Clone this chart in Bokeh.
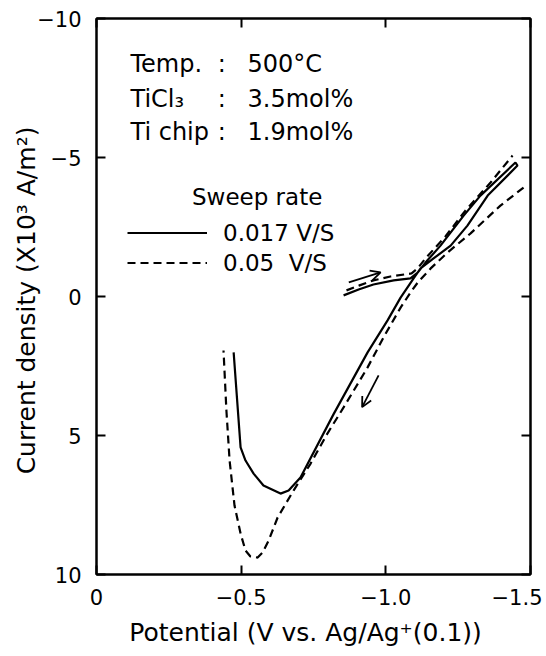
from bokeh.plotting import figure
from bokeh.models import (Range1d, FixedTicker, CustomJSTickFormatter, LinearAxis,
                          Legend, LegendItem, Arrow, OpenHead, ColumnDataSource)
from bokeh.core.properties import value
from bokeh.embed import file_html
from bokeh.resources import INLINE

NAN = float("nan")
FONT = "DejaVu Sans"

# ---- data (potential V vs Ag/Ag+, current density x10^3 A/m^2) ----
solid_fwd_x = [-0.854, -0.906, -0.957, -1.027, -1.085, -1.110, -1.137, -1.189, -1.269, -1.327, -1.448]
solid_fwd_y = [-0.04, -0.25, -0.43, -0.58, -0.65, -0.86, -1.22, -1.83, -2.91, -3.63, -4.82]
solid_rev_x = [-1.455, -1.352, -1.282, -1.224, -1.165, -1.120, -1.096, -1.051, -1.006, -0.937,
               -0.819, -0.705, -0.664, -0.636, -0.577, -0.543, -0.515, -0.498, -0.474]
solid_rev_y = [-4.71, -3.63, -2.55, -1.83, -1.37, -1.01, -0.65, 0.04, 0.86, 2.01,
               4.24, 6.51, 6.98, 7.09, 6.80, 6.37, 5.90, 5.43, 2.01]

dash_fwd_x = [-0.864, -0.909, -0.957, -1.016, -1.089, -1.110, -1.137, -1.206, -1.275, -1.362, -1.438]
dash_fwd_y = [-0.22, -0.40, -0.58, -0.72, -0.83, -1.01, -1.37, -2.16, -3.09, -4.10, -5.07]
dash_rev_x = [-1.476, -1.396, -1.293, -1.213, -1.155, -1.110, -1.085, -1.051, -0.992, -0.937,
              -0.854, -0.798, -0.740, -0.681, -0.626, -0.595, -0.574, -0.557, -0.532, -0.515,
              -0.498, -0.477, -0.460, -0.449, -0.439]
dash_rev_y = [-3.92, -3.27, -2.27, -1.58, -1.01, -0.50, -0.14, 0.40, 1.47, 2.55,
              3.99, 4.93, 6.01, 6.98, 7.95, 8.78, 9.21, 9.39, 9.35, 9.14,
              8.53, 7.52, 5.90, 4.10, 1.94]

series_labels = ["0.017 V/S", "0.05  V/S"]
legend_title = "Sweep rate"

info_names = ["Temp.", "TiCl\u2083", "Ti chip"]
info_colons = [":", ":", ":"]
info_values = ["500\u00b0C", "3.5mol%", "1.9mol%"]

x_ticks = [0, -0.5, -1.0, -1.5]
y_ticks = [-10, -5, 0, 5, 10]

# sweep direction arrows (start x, start y, end x, end y)
arrow_fwd = [-0.872, -0.51, -0.982, -0.87]
arrow_rev = [-0.975, 2.84, -0.918, 3.98]

# ---- figure ----
p = figure(width=542, height=652, output_backend="svg", toolbar_location=None,
           x_range=Range1d(0, -1.5), y_range=Range1d(10, -10),
           min_border_left=96, min_border_right=12, min_border_top=18, min_border_bottom=78,
           x_axis_label="Potential  (V  vs. Ag/Ag\u207a(0.1))",
           y_axis_label="Current density  (X10\u00b3 A/m\u00b2)")
p.grid.visible = False
p.outline_line_color = "black"
p.outline_line_width = 2
p.background_fill_color = "white"
p.border_fill_color = "white"

xfmt = CustomJSTickFormatter(code="return tick == 0 ? '0' : '\u2212' + Math.abs(tick).toFixed(1);")
yfmt = CustomJSTickFormatter(code="return tick < 0 ? '\u2212' + Math.abs(tick) : String(tick);")

def style_axis(ax):
    ax.axis_line_width = 2
    ax.axis_line_color = "black"
    ax.major_tick_in = 9
    ax.major_tick_out = 0
    ax.major_tick_line_width = 2
    ax.minor_tick_line_color = None
    ax.major_label_text_font = FONT
    ax.major_label_text_font_size = "21px"
    ax.major_label_text_color = "black"
    ax.axis_label_text_font = FONT
    ax.axis_label_text_font_size = "25px"
    ax.axis_label_text_font_style = "normal"
    ax.axis_label_text_color = "black"

xa = p.xaxis[0]
ya = p.yaxis[0]
style_axis(xa)
style_axis(ya)
xa.ticker = FixedTicker(ticks=x_ticks)
ya.ticker = FixedTicker(ticks=y_ticks)
xa.formatter = xfmt
ya.formatter = yfmt
xa.major_label_standoff = 14
xa.axis_label_standoff = 10
ya.major_label_standoff = 15
ya.axis_label_standoff = -7

empty = CustomJSTickFormatter(code="return '';")
for loc, ticks in (("right", y_ticks), ("above", x_ticks)):
    ax = LinearAxis(ticker=FixedTicker(ticks=ticks), formatter=empty)
    style_axis(ax)
    ax.major_label_text_font_size = "0px"
    ax.major_label_standoff = 0
    ax.axis_label_standoff = 0
    p.add_layout(ax, loc)

solid_src = ColumnDataSource(dict(x=solid_fwd_x + solid_rev_x, y=solid_fwd_y + solid_rev_y))
dash_src = ColumnDataSource(dict(x=dash_fwd_x + [NAN] + dash_rev_x, y=dash_fwd_y + [NAN] + dash_rev_y))

r_solid = p.line("x", "y", source=solid_src, line_color="black", line_width=2.2)
r_dash = p.line("x", "y", source=dash_src, line_color="black", line_width=2.2, line_dash="8 5")

for a in (arrow_fwd, arrow_rev):
    p.add_layout(Arrow(x_start=a[0], y_start=a[1], x_end=a[2], y_end=a[3],
                       line_width=1.8, line_color="black",
                       end=OpenHead(size=10, line_width=1.8, line_color="black")))

# info text block
info_src = ColumnDataSource(dict(
    xn=[-0.1175] * 3, xc=[-0.433] * 3, xv=[-0.522] * 3,
    y=[-8.38, -7.12, -5.90],
    n=info_names, c=info_colons, v=info_values))
common = dict(source=info_src, y="y", text_font=value(FONT), text_font_size=value("24px"),
              text_color="black", text_baseline="alphabetic")
p.text(x="xn", text="n", text_align="left", **common)
p.text(x="xc", text="c", text_align="center", **common)
p.text(x="xv", text="v", text_align="left", **common)

p.text(x=[-0.330], y=[-3.57], text=[legend_title], text_font=value(FONT),
       text_font_size=value("23px"), text_color="black", text_baseline="alphabetic")

legend = Legend(items=[LegendItem(label=series_labels[0], renderers=[r_solid]),
                       LegendItem(label=series_labels[1], renderers=[r_dash])],
                location=(31, 298), glyph_width=80, glyph_height=27, label_height=27,
                label_standoff=16, spacing=3, padding=0, margin=0,
                border_line_color=None, background_fill_alpha=0,
                label_text_font=FONT, label_text_font_size="23px", label_text_color="black")
p.add_layout(legend)

open("out.html", "w").write(file_html(p, INLINE))
